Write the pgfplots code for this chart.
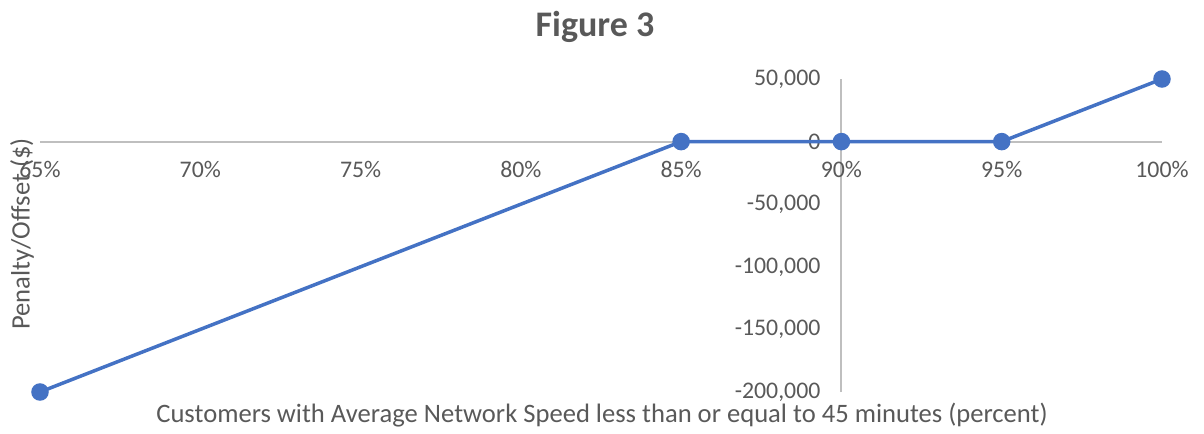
\documentclass[border=0pt]{standalone}
\usepackage{pgfplots}
\pgfplotsset{compat=1.18}
\usepackage{fontspec}
\setmainfont{Carlito}
\definecolor{serieblue}{HTML}{4472C4}
\definecolor{axisgray}{HTML}{BFBFBF}
\definecolor{labelgray}{HTML}{595959}

\begin{document}
\begin{tikzpicture}[x=1bp,y=1bp]
\begin{axis}[
  at={(0,0)}, anchor=south west,
  scale only axis,
  width=561bp, height=156.5bp,
  xmin=-25, xmax=10,
  ymin=-200000, ymax=50000,
  enlargelimits=false,
  clip=false,
  axis x line=middle,
  axis y line=middle,
  every inner x axis line/.append style={-},
  every inner y axis line/.append style={-},
  axis line style={draw=axisgray, line width=1bp},
  major tick length=0pt,
  hide obscured x ticks=false,
  hide obscured y ticks=false,
  scaled ticks=false,
  xtick={-25,-20,-15,-10,-5,0,5,10},
  xticklabels={65\%,70\%,75\%,80\%,85\%,90\%,95\%,100\%},
  ytick={-200000,-150000,-100000,-50000,0,50000},
  yticklabels={{-200,000},{-150,000},{-100,000},{-50,000},{0},{50,000}},
  ticklabel style={font=\fontsize{11.9bp}{14bp}\selectfont, text=labelgray},
  xticklabel style={anchor=north, yshift=-6.5bp},
  yticklabel style={anchor=east, xshift=-7bp},
]
% centred on 90%: x values are the percentages minus 90
\addplot[serieblue, line width=1.75bp, mark=*, mark size=3.5bp,
         mark options={fill=serieblue, draw=serieblue}]
  table[x expr=\thisrow{pct}-90, y=val] {
    pct  val
    65   -200000
    85   0
    90   0
    95   0
    100  50000
  };
\end{axis}
\node[font=\fontsize{18bp}{21bp}\selectfont\bfseries, text=labelgray]
  at (277.5bp,182.5bp) {Figure 3};
\node[font=\fontsize{13.3bp}{16bp}\selectfont, text=labelgray]
  at (281bp,-11.5bp) {Customers with Average Network Speed less than or equal to 45 minutes (percent)};
\node[font=\fontsize{13.3bp}{16bp}\selectfont, text=labelgray, rotate=90]
  at (-9bp,79bp) {Penalty/Offset (\$)};
\path[use as bounding box] (-20bp,-18bp) rectangle (582bp,196bp);
\end{tikzpicture}
\end{document}
